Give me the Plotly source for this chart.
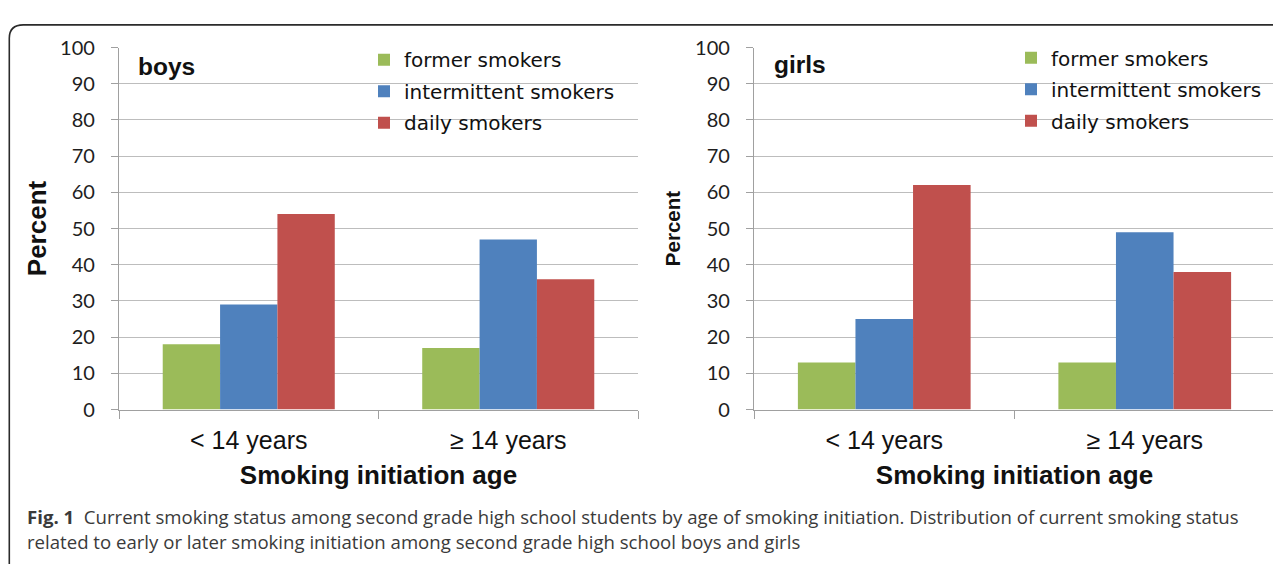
import plotly.graph_objects as go

categories = ["< 14 years", "≥ 14 years"]
series_names = ["former smokers", "intermittent smokers", "daily smokers"]
boys_former = [18, 17]
boys_intermittent = [29, 47]
boys_daily = [54, 36]
girls_former = [13, 13]
girls_intermittent = [25, 49]
girls_daily = [62, 38]
y_ticks = [0, 10, 20, 30, 40, 50, 60, 70, 80, 90, 100]

colors = ["#9BBB59", "#4F81BD", "#C0504D"]
OFF = 8  # body margin of the page
W, H = 1281, 567


def px(x):
    return (x - OFF) / W


def py(y):
    return 1 - (y - OFF) / H


fig = go.Figure()
boys = [boys_former, boys_intermittent, boys_daily]
girls = [girls_former, girls_intermittent, girls_daily]
for i, (name, vals, c) in enumerate(zip(series_names, boys, colors)):
    fig.add_trace(go.Bar(x=categories, y=vals, name=name, marker=dict(color=c, line=dict(width=0)),
                         xaxis="x", yaxis="y", legend="legend", legendgroup=f"b{i}"))
for i, (name, vals, c) in enumerate(zip(series_names, girls, colors)):
    fig.add_trace(go.Bar(x=categories, y=vals, name=name, marker=dict(color=c, line=dict(width=0)),
                         xaxis="x2", yaxis="y2", legend="legend2", legendgroup=f"g{i}"))

tick_font = dict(family="Lato, Liberation Sans, sans-serif", size=20, color="#1e1e1e")
cat_font = dict(family="Liberation Sans, Arial, sans-serif", size=25, color="#111111")
title_font = dict(family="Liberation Sans, Arial, sans-serif", size=26, color="#111111")

ydom = [py(413.7), py(35.7)]
common_y = dict(range=[0, 100], tickvals=y_ticks, showgrid=True, gridcolor="#BDBDBD", gridwidth=1.3,
                showline=True, linecolor="#A0A0A0", linewidth=1.3, ticks="outside", ticklen=7,
                tickcolor="#A0A0A0", tickfont=tick_font, zeroline=False, fixedrange=True,
                ticklabelstandoff=12)
common_x = dict(type="category", showline=True, linecolor="#A0A0A0", linewidth=1.3, ticks="outside",
                ticklen=8, tickcolor="#A0A0A0", tickson="boundaries", tickfont=cat_font, showgrid=False,
                range=[-0.5, 1.5], fixedrange=True, ticklabelstandoff=8)

legend_common = dict(font=dict(family="DejaVu Sans, sans-serif", size=20, color="#111111"),
                     bgcolor="rgba(0,0,0,0)", xanchor="left", yanchor="top", tracegroupgap=2.5,
                     itemwidth=30, traceorder="grouped")

fig.update_layout(
    width=W, height=H,
    margin=dict(l=0, r=0, t=0, b=0),
    paper_bgcolor="white", plot_bgcolor="white",
    barmode="group", bargap=0.337, bargroupgap=0,
    xaxis=dict(domain=[px(119), px(638)], anchor="y",
               title=dict(text="<b>Smoking initiation age</b>", font=title_font, standoff=13), **common_x),
    yaxis=dict(domain=ydom, anchor="x",
               title=dict(text="<b>Percent</b>", font=dict(title_font, size=26), standoff=5), **common_y),
    xaxis2=dict(domain=[px(754), px(1275)], anchor="y2",
                title=dict(text="<b>Smoking initiation age</b>", font=title_font, standoff=13), **common_x),
    yaxis2=dict(domain=ydom, anchor="x2",
                title=dict(text="<b>Percent</b>", font=dict(title_font, size=20.5), standoff=8), **common_y),
    legend=dict(x=px(364), y=py(28), **legend_common),
    legend2=dict(x=px(1011), y=py(26), **legend_common),
    showlegend=True,
)

# white backgrounds behind legends (hide gridlines there)
fig.add_shape(type="rect", xref="paper", yref="paper", x0=px(352), x1=px(641), y0=py(130), y1=py(25),
              fillcolor="white", line=dict(width=0), layer="between")
fig.add_shape(type="rect", xref="paper", yref="paper", x0=px(1009), x1=1.0, y0=py(130), y1=py(25),
              fillcolor="white", line=dict(width=0), layer="between")

# panel labels
panel_font = dict(family="Liberation Sans, Arial, sans-serif", size=24.5, color="#111111")
fig.add_annotation(text="<b>boys</b>", xref="paper", yref="paper", x=px(136), y=py(55), xanchor="left",
                   yanchor="middle", showarrow=False, font=panel_font)
fig.add_annotation(text="<b>girls</b>", xref="paper", yref="paper", x=px(772), y=py(53), xanchor="left",
                   yanchor="middle", showarrow=False, font=panel_font)

# caption
cap_font = dict(family="Open Sans, Noto Sans, sans-serif", size=18.6, color="#3a3a3a")
fig.add_annotation(text="<b>Fig. 1</b>  Current smoking status among second grade high school students by age of "
                        "smoking initiation. Distribution of current smoking status",
                   xref="paper", yref="paper", x=px(25), y=py(525), xanchor="left", yanchor="middle",
                   showarrow=False, font=cap_font)
fig.add_annotation(text="related to early or later smoking initiation among second grade high school boys and girls",
                   xref="paper", yref="paper", x=px(25), y=py(552), xanchor="left", yanchor="middle",
                   showarrow=False, font=cap_font)

# frame with rounded top-left corner
r = 14
path = (f"M {px(9.3)},0 L {px(9.3)},{py(12 + r)} "
        f"Q {px(9.3)},{py(12)} {px(9.3 + r)},{py(12)} L 1,{py(12)}")
fig.add_shape(type="path", xref="paper", yref="paper", path=path, line=dict(color="#2b2b2b", width=1.6))

fig.write_html("out.html")
